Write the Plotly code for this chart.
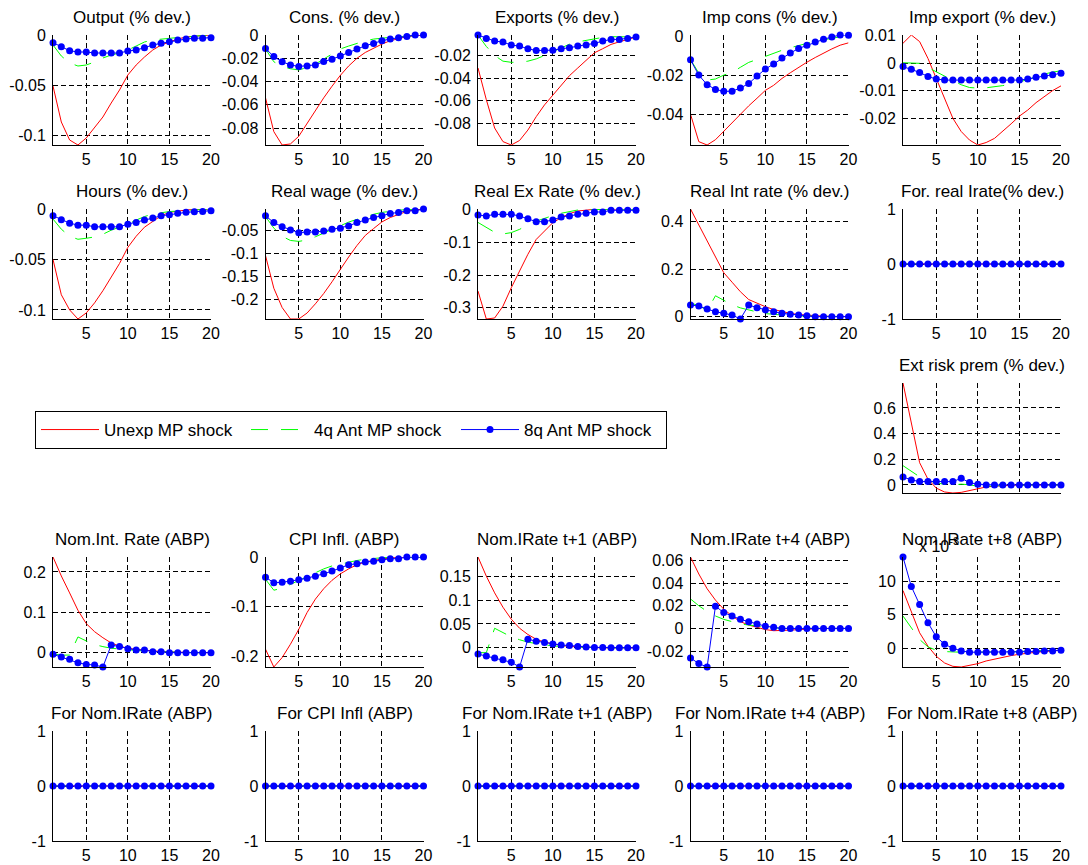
import plotly.graph_objects as go

FIG_W, FIG_H = 1088, 865
FONT = "Liberation Sans, Arial, sans-serif"

periods = list(range(1, 21))
x_ticks = [5, 10, 15, 20]
x_ticklabels = ["5", "10", "15", "20"]
zeros = [0.0] * 20
flat_ticks = [-1, 0, 1]
flat_ticklabels = ["-1", "0", "1"]

series_names = ["Unexp MP shock", "4q Ant MP shock", "8q Ant MP shock"]

# ---- Output ----
output_unexp = [-0.051, -0.087, -0.105, -0.110, -0.103, -0.093, -0.082, -0.068, -0.055, -0.040,
                -0.030, -0.022, -0.015, -0.010, -0.007, -0.004, -0.002, -0.001, -0.0005, 0.0]
output_ant4 = [-0.010, -0.021, -0.028, -0.031, -0.030, -0.027, -0.023, -0.020, -0.018, -0.015,
               -0.011, -0.007, -0.005, -0.004, -0.003, -0.0025, -0.002, -0.001, -0.0005, 0.0]
output_ant8 = [-0.0077, -0.0117, -0.0157, -0.017, -0.017, -0.018, -0.018, -0.018, -0.018, -0.016,
               -0.015, -0.0127, -0.010, -0.0083, -0.0067, -0.005, -0.004, -0.0033, -0.0033, -0.0027]
output_ticks = [-0.1, -0.05, 0]
output_ticklabels = ["-0.1", "-0.05", "0"]

# ---- Cons ----
cons_unexp = [-0.054, -0.083, -0.0945, -0.0936, -0.087, -0.076, -0.064, -0.054, -0.044, -0.0347,
              -0.0266, -0.020, -0.015, -0.0113, -0.0078, -0.0049, -0.003, -0.0014, -0.0006, 0.0]
cons_ant4 = [-0.012, -0.023, -0.027, -0.029, -0.030, -0.028, -0.025, -0.0205, -0.016, -0.012,
             -0.0095, -0.007, -0.005, -0.0035, -0.0025, -0.002, -0.0015, -0.001, -0.0005, 0.0]
cons_ant8 = [-0.0116, -0.0185, -0.023, -0.0257, -0.027, -0.0266, -0.0257, -0.0228, -0.0208, -0.018,
             -0.015, -0.012, -0.0092, -0.0072, -0.0049, -0.0035, -0.0023, -0.0012, 0.0, 0.0]
cons_ticks = [-0.08, -0.06, -0.04, -0.02, 0]
cons_ticklabels = ["-0.08", "-0.06", "-0.04", "-0.02", "0"]

# ---- Exports ----
exports_unexp = [-0.031, -0.059, -0.084, -0.096, -0.099, -0.095, -0.0858, -0.074, -0.0636, -0.0547,
                 -0.0458, -0.0378, -0.031, -0.0244, -0.0176, -0.014, -0.0102, -0.0079, -0.0058, -0.0037]
exports_ant4 = [-0.002, -0.012, -0.020, -0.025, -0.026, -0.026, -0.025, -0.023, -0.020, -0.0165,
                -0.013, -0.010, -0.008, -0.0065, -0.005, -0.004, -0.0034, -0.0032, -0.0035, -0.0037]
exports_ant8 = [-0.0019, -0.0049, -0.0073, -0.0081, -0.0108, -0.0117, -0.014, -0.0156, -0.0156, -0.0153,
                -0.014, -0.0132, -0.0117, -0.0108, -0.0093, -0.0073, -0.0058, -0.0058, -0.0049, -0.0037]
exports_ticks = [-0.08, -0.06, -0.04, -0.02]
exports_ticklabels = ["-0.08", "-0.06", "-0.04", "-0.02"]

# ---- Imp cons ----
impcons_unexp = [-0.040, -0.054, -0.0557, -0.053, -0.0487, -0.0443, -0.040, -0.0357, -0.0318, -0.0278,
                 -0.0252, -0.0217, -0.0188, -0.016, -0.0134, -0.011, -0.0087, -0.0066, -0.0047, -0.0035]
impcons_ant4 = [-0.012, -0.019, -0.0225, -0.022, -0.020, -0.0186, -0.016, -0.0135, -0.012, -0.0103,
                -0.0088, -0.0073, -0.006, -0.0048, -0.0038, -0.0028, -0.0019, -0.0011, -0.0004, 0.0002]
impcons_ant8 = [-0.0122, -0.020, -0.0249, -0.0273, -0.0283, -0.0282, -0.0266, -0.0243, -0.0205, -0.0169,
                -0.0143, -0.0113, -0.0087, -0.0064, -0.0047, -0.0031, -0.0017, -0.0005, 0.0005, 0.0004]
impcons_ticks = [-0.04, -0.02, 0]
impcons_ticklabels = ["-0.04", "-0.02", "0"]

# ---- Imp export ----
impexp_unexp = [0.0073, 0.0103, 0.0079, 0.0018, -0.0055, -0.0127, -0.020, -0.0248, -0.0279, -0.0297,
                -0.0288, -0.0273, -0.0248, -0.022, -0.0192, -0.017, -0.0143, -0.0121, -0.0099, -0.0082]
impexp_ant4 = [0.0002, 0.0002, 0.0, -0.0015, -0.003, -0.0045, -0.0062, -0.0078, -0.0088, -0.009,
               -0.0089, -0.0086, -0.0081, -0.0076, -0.0068, -0.0059, -0.0049, -0.0039, -0.0032, -0.0027]
impexp_ant8 = [-0.0012, -0.0022, -0.0033, -0.0048, -0.0057, -0.0061, -0.0061, -0.0061, -0.0061, -0.0061,
               -0.0061, -0.0061, -0.0061, -0.0061, -0.0061, -0.0057, -0.0051, -0.0046, -0.0042, -0.0036]
impexp_ticks = [-0.02, -0.01, 0, 0.01]
impexp_ticklabels = ["-0.02", "-0.01", "0", "0.01"]

# ---- Hours ----
hours_unexp = [-0.050, -0.085, -0.100, -0.109, -0.103, -0.093, -0.081, -0.067, -0.054, -0.038,
               -0.027, -0.018, -0.012, -0.0067, -0.0033, -0.002, -0.001, -0.0005, 0.0, 0.0]
hours_ant4 = [-0.010, -0.020, -0.027, -0.030, -0.029, -0.0277, -0.025, -0.021, -0.018, -0.015,
              -0.011, -0.0075, -0.005, -0.0035, -0.0025, -0.002, -0.0015, -0.001, -0.0005, 0.0]
hours_ant8 = [-0.0067, -0.0107, -0.014, -0.016, -0.016, -0.0177, -0.0177, -0.0177, -0.0177, -0.015,
              -0.0133, -0.011, -0.009, -0.0067, -0.0057, -0.0043, -0.0033, -0.0027, -0.0025, -0.0017]
hours_ticks = [-0.1, -0.05, 0]
hours_ticklabels = ["-0.1", "-0.05", "0"]

# ---- Real wage ----
rwage_unexp = [-0.105, -0.176, -0.218, -0.243, -0.243, -0.230, -0.210, -0.1875, -0.162, -0.1346,
               -0.108, -0.083, -0.061, -0.046, -0.0316, -0.022, -0.0147, -0.0088, -0.0051, -0.0037]
rwage_ant4 = [-0.020, -0.045, -0.063, -0.072, -0.074, -0.071, -0.064, -0.056, -0.048, -0.040,
              -0.032, -0.026, -0.020, -0.015, -0.011, -0.008, -0.006, -0.005, -0.004, -0.0035]
rwage_ant8 = [-0.0184, -0.033, -0.042, -0.0493, -0.055, -0.0537, -0.0537, -0.0515, -0.0478, -0.0456,
              -0.0404, -0.033, -0.0272, -0.022, -0.0184, -0.0132, -0.011, -0.0074, -0.0074, -0.0037]
rwage_ticks = [-0.2, -0.15, -0.1, -0.05]
rwage_ticklabels = ["-0.2", "-0.15", "-0.1", "-0.05"]

# ---- Real Ex Rate ----
rex_unexp = [-0.249, -0.334, -0.331, -0.295, -0.239, -0.188, -0.137, -0.0916, -0.066, -0.0407,
             -0.0254, -0.0132, -0.005, -0.002, 0.0, 0.0005, 0.001, 0.001, 0.001, 0.001]
rex_ant4 = [-0.040, -0.056, -0.070, -0.075, -0.071, -0.061, -0.047, -0.036, -0.027, -0.019,
            -0.012, -0.006, -0.002, -0.001, 0.0, 0.0, 0.0, 0.0, 0.0, 0.0]
rex_ant8 = [-0.0173, -0.0203, -0.0153, -0.0153, -0.0153, -0.0203, -0.0285, -0.0376, -0.0376, -0.0325,
            -0.0234, -0.0203, -0.0153, -0.0122, -0.0081, -0.0081, -0.003, -0.003, -0.003, -0.003]
rex_ticks = [-0.3, -0.2, -0.1, 0]
rex_ticklabels = ["-0.3", "-0.2", "-0.1", "0"]

# ---- Real Int rate ----
rint_unexp = [0.453, 0.385, 0.318, 0.252, 0.185, 0.145, 0.105, 0.072, 0.056, 0.042,
              0.030, 0.021, 0.014, 0.009, 0.006, 0.004, 0.002, 0.001, 0.001, 0.0]
rint_ant4 = [0.056, 0.048, 0.025, 0.088, 0.069, 0.050, 0.037, 0.027, 0.020, 0.013,
             0.009, 0.006, 0.004, 0.003, 0.002, 0.001, 0.001, 0.0, 0.0, 0.0]
rint_ant8 = [0.049, 0.045, 0.032, 0.021, 0.014, 0.007, -0.0098, 0.049, 0.038, 0.028,
             0.021, 0.014, 0.010, 0.007, 0.004, 0.0, 0.0, 0.0, 0.0, 0.0]
rint_ticks = [0, 0.2, 0.4]
rint_ticklabels = ["0", "0.2", "0.4"]

# ---- Ext risk prem ----
erp_unexp = [0.794, 0.470, 0.173, 0.045, -0.025, -0.055, -0.063, -0.058, -0.045, -0.028,
             -0.016, -0.010, -0.005, -0.002, 0.0, 0.0, 0.0, 0.0, 0.0, 0.0]
erp_ant4 = [0.150, 0.105, 0.063, 0.035, 0.016, 0.005, 0.0, 0.006, 0.001, -0.011,
            -0.012, -0.008, -0.004, -0.002, 0.0, 0.0, 0.0, 0.0, 0.0, 0.0]
erp_ant8 = [0.062, 0.039, 0.026, 0.026, 0.026, 0.026, 0.026, 0.052, 0.018, 0.005,
            0.0, 0.0, 0.0, 0.0, 0.0, 0.0, 0.0, 0.0, 0.0, 0.0]
erp_ticks = [0, 0.2, 0.4, 0.6]
erp_ticklabels = ["0", "0.2", "0.4", "0.6"]

# ---- Nom.Int. Rate ----
nir_unexp = [0.237, 0.190, 0.148, 0.105, 0.072, 0.052, 0.037, 0.024, 0.016, 0.011,
             0.008, 0.006, 0.004, 0.003, 0.002, 0.001, 0.001, 0.0, 0.0, 0.0]
nir_ant4 = [-0.003, -0.006, -0.006, 0.039, 0.029, 0.020, 0.015, 0.011, 0.009, 0.007,
            0.005, 0.004, 0.003, 0.002, 0.0015, 0.001, 0.0005, 0.0, 0.0, 0.0]
nir_ant8 = [-0.004, -0.011, -0.0165, -0.025, -0.029, -0.0306, -0.0355, 0.019, 0.015, 0.010,
            0.0066, 0.0066, 0.0025, 0.0025, 0.0, 0.0, 0.0, 0.0, 0.0, 0.0]
nir_ticks = [0, 0.1, 0.2]
nir_ticklabels = ["0", "0.1", "0.2"]

# ---- CPI Infl. ----
cpi_unexp = [-0.186, -0.222, -0.203, -0.176, -0.146, -0.112, -0.085, -0.064, -0.047, -0.034,
             -0.024, -0.0156, -0.010, -0.0068, -0.004, -0.002, -0.0007, 0.0, 0.0, 0.0]
cpi_ant4 = [-0.045, -0.067, -0.063, -0.055, -0.047, -0.040, -0.032, -0.024, -0.018, -0.014,
            -0.010, -0.007, -0.0045, -0.0025, -0.0015, -0.001, -0.0005, 0.0, 0.0, 0.0]
cpi_ant8 = [-0.0407, -0.052, -0.051, -0.049, -0.046, -0.0427, -0.0386, -0.034, -0.0285, -0.0224,
            -0.0156, -0.0136, -0.010, -0.0088, -0.0054, -0.0034, -0.0034, 0.0, 0.0, 0.0]
cpi_ticks = [-0.2, -0.1, 0]
cpi_ticklabels = ["-0.2", "-0.1", "0"]

# ---- Nom.IRate t+1 ----
nir1_unexp = [0.190, 0.150, 0.115, 0.085, 0.060, 0.041, 0.028, 0.018, 0.012, 0.008,
              0.005, 0.003, 0.002, 0.001, 0.001, 0.0, 0.0, 0.0, 0.0, 0.0]
nir1_ant4 = [-0.010, -0.010, 0.041, 0.032, 0.023, 0.017, 0.012, 0.009, 0.006, 0.004,
             0.003, 0.002, 0.0015, 0.001, 0.0005, 0.0, 0.0, 0.0, 0.0, 0.0]
nir1_ant8 = [-0.013, -0.017, -0.021, -0.025, -0.030, -0.040, 0.018, 0.014, 0.011, 0.008,
             0.006, 0.005, 0.003, 0.002, 0.001, 0.001, 0.0, 0.0, 0.0, 0.0]
nir1_ticks = [0, 0.05, 0.1, 0.15]
nir1_ticklabels = ["0", "0.05", "0.1", "0.15"]

# ---- Nom.IRate t+4 ----
nir4_unexp = [0.063, 0.048, 0.035, 0.025, 0.017, 0.011, 0.006, 0.003, 0.001, -0.001,
              -0.002, -0.002, -0.0015, -0.001, -0.0005, 0.0, 0.0, 0.0, 0.0, 0.0]
nir4_ant4 = [0.026, 0.020, 0.015, 0.011, 0.008, 0.006, 0.004, 0.003, 0.002, 0.001,
             0.0005, 0.0, 0.0, 0.0, 0.0, 0.0, 0.0, 0.0, 0.0, 0.0]
nir4_ant8 = [-0.026, -0.031, -0.034, 0.0196, 0.014, 0.011, 0.008, 0.006, 0.004, 0.002,
             0.001, 0.0, 0.0, 0.0, 0.0, 0.0, 0.0, 0.0, 0.0, 0.0]
nir4_ticks = [-0.02, 0, 0.02, 0.04, 0.06]
nir4_ticklabels = ["-0.02", "0", "0.02", "0.04", "0.06"]

# ---- Nom.IRate t+8 (values in units of 10^-3) ----
nir8_unexp_e3 = [8.6, 5.3, 2.3, 0.3, -1.2, -2.2, -2.7, -2.8, -2.6, -2.3,
                 -1.9, -1.6, -1.3, -1.1, -0.9, -0.7, -0.6, -0.5, -0.4, -0.3]
nir8_ant4_e3 = [4.8, 3.0, 1.3, 0.2, -0.3, -0.5, -0.6, -0.6, -0.6, -0.6,
                -0.6, -0.6, -0.5, -0.5, -0.5, -0.4, -0.4, -0.3, -0.3, -0.3]
nir8_ant8_e3 = [13.6, 9.2, 6.5, 3.8, 1.7, 0.6, 0.0, -0.4, -0.6, -0.6,
                -0.6, -0.6, -0.6, -0.6, -0.6, -0.5, -0.5, -0.4, -0.4, -0.3]
nir8_ticks = [0, 5, 10]
nir8_ticklabels = ["0", "5", "10"]

panels = [
    (0, 0, "Output (% dev.)", output_unexp, output_ant4, output_ant8, output_ticks, output_ticklabels, True),
    (0, 1, "Cons. (% dev.)", cons_unexp, cons_ant4, cons_ant8, cons_ticks, cons_ticklabels, True),
    (0, 2, "Exports (% dev.)", exports_unexp, exports_ant4, exports_ant8, exports_ticks, exports_ticklabels, True),
    (0, 3, "Imp cons (% dev.)", impcons_unexp, impcons_ant4, impcons_ant8, impcons_ticks, impcons_ticklabels, True),
    (0, 4, "Imp export (% dev.)", impexp_unexp, impexp_ant4, impexp_ant8, impexp_ticks, impexp_ticklabels, True),
    (1, 0, "Hours (% dev.)", hours_unexp, hours_ant4, hours_ant8, hours_ticks, hours_ticklabels, True),
    (1, 1, "Real wage (% dev.)", rwage_unexp, rwage_ant4, rwage_ant8, rwage_ticks, rwage_ticklabels, True),
    (1, 2, "Real Ex Rate (% dev.)", rex_unexp, rex_ant4, rex_ant8, rex_ticks, rex_ticklabels, True),
    (1, 3, "Real Int rate (% dev.)", rint_unexp, rint_ant4, rint_ant8, rint_ticks, rint_ticklabels, True),
    (1, 4, "For. real Irate(% dev.)", zeros, zeros, zeros, flat_ticks, flat_ticklabels, True),
    (2, 4, "Ext risk prem (% dev.)", erp_unexp, erp_ant4, erp_ant8, erp_ticks, erp_ticklabels, False),
    (3, 0, "Nom.Int. Rate (ABP)", nir_unexp, nir_ant4, nir_ant8, nir_ticks, nir_ticklabels, True),
    (3, 1, "CPI Infl. (ABP)", cpi_unexp, cpi_ant4, cpi_ant8, cpi_ticks, cpi_ticklabels, True),
    (3, 2, "Nom.IRate t+1 (ABP)", nir1_unexp, nir1_ant4, nir1_ant8, nir1_ticks, nir1_ticklabels, True),
    (3, 3, "Nom.IRate t+4 (ABP)", nir4_unexp, nir4_ant4, nir4_ant8, nir4_ticks, nir4_ticklabels, True),
    (3, 4, "Nom.IRate t+8 (ABP)", nir8_unexp_e3, nir8_ant4_e3, nir8_ant8_e3, nir8_ticks, nir8_ticklabels, True),
    (4, 0, "For Nom.IRate (ABP)", zeros, zeros, zeros, flat_ticks, flat_ticklabels, True),
    (4, 1, "For CPI Infl (ABP)", zeros, zeros, zeros, flat_ticks, flat_ticklabels, True),
    (4, 2, "For Nom.IRate t+1 (ABP)", zeros, zeros, zeros, flat_ticks, flat_ticklabels, True),
    (4, 3, "For Nom.IRate t+4 (ABP)", zeros, zeros, zeros, flat_ticks, flat_ticklabels, True),
    (4, 4, "For Nom.IRate t+8 (ABP)", zeros, zeros, zeros, flat_ticks, flat_ticklabels, True),
]

# layout geometry (pixels)
COL_LEFT0, COL_STEP, PLOT_W = 53, 212.5, 158
ROW_TOP0, ROW_STEP, PLOT_H = 35, 174, 110

fig = go.Figure()
layout_axes = {}
annotations = []

for i, (r, c, title, unexp, ant4, ant8, yt, ytl, show_xl) in enumerate(panels):
    k = i + 1
    xref = "x" if k == 1 else f"x{k}"
    yref = "y" if k == 1 else f"y{k}"
    x0 = (COL_LEFT0 + COL_STEP * c) / FIG_W
    x1 = (COL_LEFT0 + COL_STEP * c + PLOT_W) / FIG_W
    ytop = 1 - (ROW_TOP0 + ROW_STEP * r) / FIG_H
    ybot = 1 - (ROW_TOP0 + ROW_STEP * r + PLOT_H) / FIG_H

    allv = list(unexp) + list(ant4) + list(ant8)
    lo, hi = min(allv), max(allv)
    if hi - lo < 1e-12:
        lo, hi = -1, 1

    styles = [
        dict(mode="lines", line=dict(color="#ff0000", width=1)),
        dict(mode="lines", line=dict(color="#00ff00", width=1, dash="17px,13px")),
        dict(mode="lines+markers", line=dict(color="#0000ff", width=1),
             marker=dict(color="#0000ff", size=7, line=dict(width=0))),
    ]
    for name, ys, st in zip(series_names, [unexp, ant4, ant8], styles):
        fig.add_trace(go.Scatter(x=periods, y=ys, name=name, xaxis=xref, yaxis=yref,
                                 showlegend=(k == 1), cliponaxis=False, hoverinfo="skip", **st))

    axis_common = dict(showline=True, linecolor="black", linewidth=1, mirror=False,
                       showgrid=True, gridcolor="black", gridwidth=1, griddash="5px,3px",
                       zeroline=False, ticks="", automargin=False,
                       tickfont=dict(size=16, color="black", family=FONT))
    layout_axes["xaxis" if k == 1 else f"xaxis{k}"] = dict(
        domain=[x0, x1], anchor=yref, range=[1, 20], tickmode="array",
        tickvals=x_ticks, ticktext=x_ticklabels, showticklabels=show_xl, **axis_common)
    layout_axes["yaxis" if k == 1 else f"yaxis{k}"] = dict(
        domain=[ybot, ytop], anchor=xref, range=[lo, hi], tickmode="array",
        tickvals=yt, ticktext=ytl, ticklabelstandoff=3, **axis_common)

    annotations.append(dict(text=title, xref="paper", yref="paper", x=(x0 + x1) / 2, y=ytop,
                            xanchor="center", yanchor="bottom", yshift=6, showarrow=False,
                            font=dict(size=17, color="black", family=FONT)))
    if title.startswith("Nom.IRate t+8"):
        annotations.append(dict(text="x 10<sup>-3</sup>", xref="paper", yref="paper", x=x0, y=ytop,
                                xanchor="left", yanchor="bottom", yshift=0, xshift=14, showarrow=False,
                                font=dict(size=16, color="black", family=FONT)))

fig.update_layout(
    width=FIG_W, height=FIG_H,
    autosize=False,
    margin=dict(l=0, r=0, t=0, b=0, pad=0, autoexpand=False),
    paper_bgcolor="white", plot_bgcolor="white",
    font=dict(family=FONT, color="black", size=16),
    annotations=annotations,
    showlegend=True,
    legend=dict(x=35 / FIG_W, y=1 - 411 / FIG_H, xanchor="left", yanchor="top",
                orientation="h", bordercolor="black", borderwidth=1, bgcolor="white",
                font=dict(size=17, color="black", family=FONT),
                itemwidth=58, entrywidth=137, entrywidthmode="pixels"),
    **layout_axes,
)

fig.write_html("out.html")
